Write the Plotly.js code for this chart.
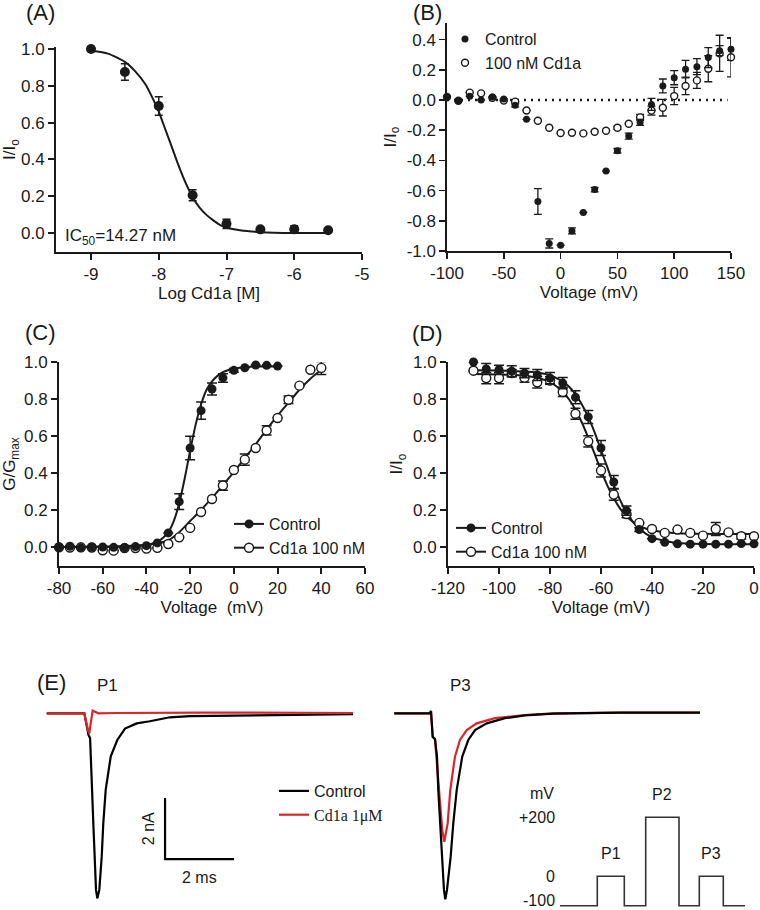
<!DOCTYPE html>
<html>
<head>
<meta charset="utf-8">
<script src="https://cdn.plot.ly/plotly-3.0.1.min.js"></script>
<style>html,body{margin:0;padding:0;background:#fff;}#chart{width:760px;height:910px;}</style>
</head>
<body>
<div id="chart"></div>
<script>
// ---------- Panel A: concentration-response ----------
const aLogConc = [-9, -8.5, -8, -7.5, -7, -6.5, -6, -5.5];
const aRatio   = [1.0, 0.875, 0.69, 0.205, 0.05, 0.02, 0.02, 0.015];
const aErr     = [0.0, 0.045, 0.05, 0.03, 0.025, 0.005, 0.02, 0.005];
const aFitX = [-9, -8.75, -8.5, -8.35, -8.2, -8.1, -8, -7.9, -7.8, -7.7, -7.6, -7.5, -7.4, -7.3, -7.2, -7.1, -7, -6.8, -6.5, -6, -5.5];
const aFitY = [0.99, 0.975, 0.93, 0.88, 0.81, 0.74, 0.66, 0.56, 0.46, 0.36, 0.27, 0.195, 0.14, 0.1, 0.07, 0.045, 0.03, 0.015, 0.005, 0.0, 0.0];
const aXTickVals = [-9, -8, -7, -6, -5];
const aXTickText = ['-9', '-8', '-7', '-6', '-5'];
const fracTickVals = [0, 0.2, 0.4, 0.6, 0.8, 1.0];
const fracTickText = ['0.0', '0.2', '0.4', '0.6', '0.8', '1.0'];

// ---------- Panel B: I-V ----------
const bVoltage = [-100, -90, -80, -70, -60, -50, -40, -30, -20, -10, 0, 10, 20, 30, 40, 50, 60, 70, 80, 90, 100, 110, 120, 130, 140, 150];
const bControl = [0.02, -0.005, 0.025, 0.0, 0.02, 0.007, -0.035, -0.128, -0.672, -0.95, -0.962, -0.867, -0.745, -0.593, -0.471, -0.336, -0.239, -0.148, -0.029, 0.093, 0.148, 0.204, 0.221, 0.281, 0.327, 0.336];
const bControlErr = [0, 0, 0, 0, 0, 0, 0.01, 0, 0.085, 0.03, 0, 0.02, 0, 0.015, 0, 0.015, 0.02, 0.02, 0.04, 0.046, 0.047, 0.058, 0.053, 0.066, 0.033, 0.073];
const bCd1a = [0.02, -0.005, 0.049, 0.044, 0.015, -0.004, -0.011, -0.069, -0.137, -0.184, -0.219, -0.217, -0.221, -0.21, -0.204, -0.184, -0.157, -0.115, -0.07, -0.051, 0.026, 0.093, 0.13, 0.207, 0.309, 0.283];
const bCd1aErr = [0, 0, 0, 0, 0, 0, 0, 0, 0, 0, 0, 0, 0, 0, 0, 0.01, 0, 0.02, 0.03, 0.055, 0.057, 0.058, 0.053, 0.086, 0.12, 0.13];
const bZeroLineX = [-100, 147];
const bZeroLineY = [0, 0];
const bXTickVals = [-100, -50, 0, 50, 100, 150];
const bXTickText = ['-100', '-50', '0', '50', '100', '150'];
const bYTickVals = [-1.0, -0.8, -0.6, -0.4, -0.2, 0.0, 0.2, 0.4];
const bYTickText = ['-1.0', '-0.8', '-0.6', '-0.4', '-0.2', '0.0', '0.2', '0.4'];

// ---------- Panel C: activation ----------
const cVoltage = [-80, -75, -70, -65, -60, -55, -50, -45, -40, -35, -30, -25, -20, -15, -10, -5, 0, 5, 10, 15, 20, 25, 30, 35, 40];
const cControl = [0.0, 0.004, -0.005, 0.0, 0.0, -0.002, -0.004, 0.002, 0.007, 0.022, 0.076, 0.245, 0.535, 0.737, 0.854, 0.914, 0.955, 0.969, 0.984, 0.982, 0.978];
const cControlErr = [0, 0, 0, 0, 0, 0, 0, 0, 0, 0, 0, 0.043, 0.063, 0.047, 0.032, 0.023, 0.01, 0, 0, 0, 0];
const cCd1a = [-0.002, -0.003, -0.002, -0.003, -0.018, -0.02, -0.006, -0.006, -0.009, -0.005, 0.016, 0.052, 0.103, 0.189, 0.259, 0.332, 0.416, 0.472, 0.535, 0.63, 0.697, 0.796, 0.872, 0.958, 0.968];
const cCd1aErr = [0, 0, 0, 0, 0, 0, 0, 0, 0, 0, 0, 0, 0, 0, 0, 0.025, 0, 0.03, 0, 0.025, 0, 0.02, 0, 0, 0.035];
const cFitCtrlX = [-80, -60, -50, -45, -40, -37.5, -35, -32.5, -30, -27.5, -25, -22.5, -20, -17.5, -15, -12.5, -10, -7.5, -5, -2.5, 0, 5, 10, 15, 20];
const cFitCtrlY = [0, 0, 0.002, 0.005, 0.01, 0.017, 0.028, 0.048, 0.08, 0.14, 0.235, 0.37, 0.52, 0.66, 0.77, 0.85, 0.895, 0.925, 0.945, 0.957, 0.965, 0.972, 0.975, 0.975, 0.975];
const cFitCdX = [-80, -60, -50, -40, -35, -30, -25, -20, -15, -10, -5, 0, 5, 10, 15, 20, 25, 30, 35, 40];
const cFitCdY = [0, 0.002, 0.005, 0.012, 0.02, 0.036, 0.08, 0.14, 0.2, 0.265, 0.335, 0.405, 0.48, 0.555, 0.635, 0.71, 0.78, 0.85, 0.91, 0.958];
const cXTickVals = [-80, -60, -40, -20, 0, 20, 40, 60];
const cXTickText = ['-80', '-60', '-40', '-20', '0', '20', '40', '60'];

// ---------- Panel D: inactivation ----------
const dVoltage = [-110, -105, -100, -95, -90, -85, -80, -75, -70, -65, -60, -55, -50, -45, -40, -35, -30, -25, -20, -15, -10, -5, 0];
const dControl = [1.0, 0.962, 0.958, 0.95, 0.94, 0.93, 0.913, 0.886, 0.809, 0.703, 0.535, 0.351, 0.196, 0.094, 0.045, 0.025, 0.017, 0.015, 0.015, 0.015, 0.015, 0.018, 0.017];
const dControlErr = [0, 0.03, 0.025, 0.03, 0.025, 0.03, 0.03, 0.03, 0.035, 0.035, 0.04, 0.035, 0.025, 0.01, 0, 0, 0, 0, 0, 0, 0, 0, 0];
const dCd1a = [0.953, 0.913, 0.913, 0.94, 0.915, 0.89, 0.9, 0.838, 0.72, 0.571, 0.413, 0.283, 0.178, 0.13, 0.097, 0.076, 0.094, 0.076, 0.061, 0.097, 0.079, 0.058, 0.058];
const dCd1aErr = [0, 0.03, 0.03, 0.02, 0.025, 0.03, 0.02, 0.025, 0.03, 0.03, 0.035, 0.03, 0.02, 0, 0, 0, 0, 0, 0, 0.035, 0, 0.015, 0];
const dFitX = [-110, -100, -95, -90, -85, -80, -77.5, -75, -72.5, -70, -67.5, -65, -62.5, -60, -57.5, -55, -52.5, -50, -47.5, -45, -42.5, -40, -35, -30, -20, -10, 0];
const dFitCtrlY = [0.955, 0.954, 0.952, 0.949, 0.943, 0.928, 0.913, 0.894, 0.866, 0.825, 0.77, 0.702, 0.62, 0.524, 0.43, 0.334, 0.253, 0.187, 0.135, 0.098, 0.072, 0.053, 0.032, 0.022, 0.016, 0.015, 0.015];
const dFitCdY = [0.935, 0.933, 0.931, 0.926, 0.915, 0.891, 0.869, 0.839, 0.797, 0.742, 0.673, 0.591, 0.503, 0.414, 0.332, 0.263, 0.207, 0.166, 0.136, 0.114, 0.1, 0.09, 0.079, 0.074, 0.071, 0.07, 0.07];
const dXTickVals = [-120, -100, -80, -60, -40, -20, 0];
const dXTickText = ['-120', '-100', '-80', '-60', '-40', '-20', '0'];

// ---------- Panel E: current traces (ms, nA) ----------
const eP1CtrlT = [0, 1.09, 1.15, 1.21, 1.258, 1.275, 1.351, 1.429, 1.467, 1.525, 1.594, 1.64, 1.71, 1.855, 2.046, 2.27, 2.61, 2.99, 3.28, 3.57, 4.15, 5.89, 7.34, 8.88];
const eP1CtrlI = [0, 0, -0.35, -0.71, -0.82, -1.42, -3.61, -5.79, -6.07, -5.79, -4.70, -3.61, -2.51, -1.42, -0.875, -0.5, -0.33, -0.26, -0.19, -0.13, -0.09, -0.06, -0.04, -0.03];
const eP1CdT = [0, 1.09, 1.206, 1.235, 1.275, 1.333, 1.4, 1.5, 2.0, 3.0, 4.5, 6.0, 7.5, 8.88];
const eP1CdI = [0, 0, -0.60, -0.66, -0.33, 0.085, 0.05, 0.0, 0.01, 0.02, 0.02, 0.02, 0.01, 0.01];
const eP3CtrlT = [0, 1.035, 1.064, 1.113, 1.18, 1.238, 1.275, 1.325, 1.374, 1.44, 1.478, 1.528, 1.634, 1.71, 1.81, 1.97, 2.145, 2.34, 2.68, 3.21, 3.79, 4.61, 6.54, 8.86];
const eP3CtrlI = [0, 0, 0.075, -0.77, -0.85, -1.42, -2.51, -3.61, -4.70, -5.79, -6.1, -5.79, -4.70, -3.61, -2.51, -1.42, -0.875, -0.55, -0.33, -0.16, -0.07, -0.01, 0.02, 0.02];
const eP3CdT = [0, 1.035, 1.064, 1.113, 1.18, 1.257, 1.333, 1.39, 1.45, 1.547, 1.623, 1.759, 1.904, 2.1, 2.39, 2.92, 3.79, 4.61, 6.54, 8.86];
const eP3CdI = [0, 0, 0.075, -0.77, -0.85, -1.97, -3.06, -3.83, -4.21, -3.61, -2.51, -1.42, -0.875, -0.55, -0.33, -0.16, -0.056, 0.0, 0.02, 0.02];
const scaleBarMs = 2;
const scaleBarNa = 2;
// voltage protocol (schematic time units, mV)
const protoT = [0, 3.73, 6.43, 8.57, 11.9, 13.93, 16.33, 18.5];
const protoV = [-100, 0, -100, 200, -100, 0, -100, -100];
const protoPulseNames = ['P1', 'P2', 'P3'];
const protoTickVals = [-100, 0, 200];
const protoTickText = ['-100', '0', '+200'];

// ---------- style ----------
const FONT = 'Liberation Sans, Arial, Helvetica, sans-serif';
const INK = '#1a1a1a';
const RED = '#d8262b';
const W = 760, H = 910;
const px = v => v / W;          // page x -> paper
const py = v => 1 - v / H;      // page y -> paper
const SCALEBAR_ORIGIN = {t: 3.43, i: -4.78};

function axis(extra) {
  return Object.assign({
    showgrid: false, zeroline: false, showline: true, linecolor: INK, linewidth: 2,
    ticks: 'outside', ticklen: 6, tickwidth: 2, tickcolor: INK,
    tickfont: {family: FONT, size: 17, color: INK}, fixedrange: true
  }, extra);
}
function ttl(text, standoff) { return {text: text, font: {family: FONT, size: 17, color: INK}, standoff: standoff}; }
function errs(arr, w, th) { return {type: 'data', array: arr, visible: true, color: INK, thickness: th || 1.5, width: w}; }
const openMarker = s => ({size: s, color: '#ffffff', line: {color: INK, width: 1.4}});
const filledMarker = s => ({size: s, color: INK, line: {color: INK, width: 0}});

const traces = [];
// A
traces.push({x: aFitX, y: aFitY, mode: 'lines', line: {color: INK, width: 2, shape: 'spline', smoothing: 0.6}, xaxis: 'x', yaxis: 'y', showlegend: false, hoverinfo: 'skip'});
traces.push({x: aLogConc, y: aRatio, mode: 'markers', marker: filledMarker(10), error_y: errs(aErr, 4), xaxis: 'x', yaxis: 'y', showlegend: false, cliponaxis: false});
// B
traces.push({x: bZeroLineX, y: bZeroLineY, mode: 'lines', line: {color: INK, width: 2.5, dash: '2px,5px'}, xaxis: 'x2', yaxis: 'y2', showlegend: false});
traces.push({x: bVoltage, y: bCd1a, name: '100 nM Cd1a', mode: 'markers', marker: openMarker(7), error_y: errs(bCd1aErr, 4, 1.3), xaxis: 'x2', yaxis: 'y2', legend: 'legend', legendrank: 2, cliponaxis: false});
traces.push({x: bVoltage, y: bControl, name: 'Control', mode: 'markers', marker: filledMarker(7), error_y: errs(bControlErr, 4, 1.3), xaxis: 'x2', yaxis: 'y2', legend: 'legend', legendrank: 1, cliponaxis: false});
// C
traces.push({x: cFitCtrlX, y: cFitCtrlY, mode: 'lines', line: {color: INK, width: 2, shape: 'spline', smoothing: 0.6}, xaxis: 'x3', yaxis: 'y3', showlegend: false});
traces.push({x: cFitCdX, y: cFitCdY, mode: 'lines', line: {color: INK, width: 2, shape: 'spline', smoothing: 0.6}, xaxis: 'x3', yaxis: 'y3', showlegend: false});
traces.push({x: cVoltage, y: cCd1a, mode: 'markers', marker: openMarker(9), error_y: errs(cCd1aErr, 5), xaxis: 'x3', yaxis: 'y3', showlegend: false, cliponaxis: false});
traces.push({x: cVoltage.slice(0, cControl.length), y: cControl, mode: 'markers', marker: filledMarker(9), error_y: errs(cControlErr, 5), xaxis: 'x3', yaxis: 'y3', showlegend: false, cliponaxis: false});
traces.push({x: [null], y: [null], name: 'Control', mode: 'lines+markers', marker: filledMarker(9), line: {color: INK, width: 2}, xaxis: 'x3', yaxis: 'y3', legend: 'legend2'});
traces.push({x: [null], y: [null], name: 'Cd1a 100 nM', mode: 'lines+markers', marker: openMarker(9), line: {color: INK, width: 2}, xaxis: 'x3', yaxis: 'y3', legend: 'legend2'});
// D
traces.push({x: dFitX, y: dFitCtrlY, mode: 'lines', line: {color: INK, width: 2, shape: 'spline', smoothing: 0.6}, xaxis: 'x4', yaxis: 'y4', showlegend: false});
traces.push({x: dFitX, y: dFitCdY, mode: 'lines', line: {color: INK, width: 2, shape: 'spline', smoothing: 0.6}, xaxis: 'x4', yaxis: 'y4', showlegend: false});
traces.push({x: dVoltage, y: dCd1a, mode: 'markers', marker: openMarker(9), error_y: errs(dCd1aErr, 5), xaxis: 'x4', yaxis: 'y4', showlegend: false, cliponaxis: false});
traces.push({x: dVoltage, y: dControl, mode: 'markers', marker: filledMarker(9), error_y: errs(dControlErr, 5), xaxis: 'x4', yaxis: 'y4', showlegend: false, cliponaxis: false});
traces.push({x: [null], y: [null], name: 'Control', mode: 'lines+markers', marker: filledMarker(9), line: {color: INK, width: 2}, xaxis: 'x4', yaxis: 'y4', legend: 'legend3'});
traces.push({x: [null], y: [null], name: 'Cd1a 100 nM', mode: 'lines+markers', marker: openMarker(9), line: {color: INK, width: 2}, xaxis: 'x4', yaxis: 'y4', legend: 'legend3'});
// E - P1
traces.push({x: eP1CtrlT, y: eP1CtrlI, name: 'Control', mode: 'lines', line: {color: '#000', width: 2.2}, xaxis: 'x5', yaxis: 'y5', legend: 'legend4', cliponaxis: false});
traces.push({x: eP1CdT, y: eP1CdI, name: '<span style="font-family:Liberation Serif, Times New Roman, serif">Cd1a 1μM</span>', mode: 'lines', line: {color: RED, width: 2.2}, xaxis: 'x5', yaxis: 'y5', legend: 'legend4', cliponaxis: false});
// scale bar
traces.push({x: [SCALEBAR_ORIGIN.t, SCALEBAR_ORIGIN.t, SCALEBAR_ORIGIN.t + scaleBarMs], y: [SCALEBAR_ORIGIN.i + scaleBarNa, SCALEBAR_ORIGIN.i, SCALEBAR_ORIGIN.i], mode: 'lines', line: {color: '#000', width: 2.2}, xaxis: 'x5', yaxis: 'y5', showlegend: false});
// E - P3
traces.push({x: eP3CdT, y: eP3CdI, mode: 'lines', line: {color: RED, width: 2.2}, xaxis: 'x6', yaxis: 'y6', showlegend: false, cliponaxis: false});
traces.push({x: eP3CtrlT, y: eP3CtrlI, mode: 'lines', line: {color: '#000', width: 2.2}, xaxis: 'x6', yaxis: 'y6', showlegend: false, cliponaxis: false});
// protocol
traces.push({x: protoT, y: protoV, mode: 'lines', line: {color: '#333', width: 1.6, shape: 'hv'}, xaxis: 'x7', yaxis: 'y7', showlegend: false});

const annFont = s => ({family: FONT, size: s, color: INK});

// pulse label positions from protocol
const protoAnn = [];
let k = 0;
for (let i = 0; i < protoV.length - 1; i++) {
  if (protoV[i] > protoV[0]) {
    protoAnn.push({x: (protoT[i] + protoT[i + 1]) / 2, y: protoV[i], xref: 'x7', yref: 'y7', text: protoPulseNames[k++], showarrow: false, yanchor: 'bottom', yshift: 12, font: annFont(16)});
  }
}
// protocol voltage level labels (lowest one kept inside the page)
const protoMin = Math.min.apply(null, protoTickVals);
protoTickVals.forEach((v, i) => {
  const lowest = v === protoMin;
  protoAnn.push({x: 0, xref: 'x7 domain', xanchor: 'right', xshift: -4,
    y: lowest ? 0 : v, yref: lowest ? 'paper' : 'y7', yanchor: lowest ? 'bottom' : 'middle',
    text: protoTickText[i], showarrow: false, borderpad: 0, font: annFont(16)});
});

const annotations = [
  {x: px(24), y: py(13), xref: 'paper', yref: 'paper', xanchor: 'left', yanchor: 'middle', text: '(A)', showarrow: false, font: annFont(22)},
  {x: px(411), y: py(13), xref: 'paper', yref: 'paper', xanchor: 'left', yanchor: 'middle', text: '(B)', showarrow: false, font: annFont(22)},
  {x: px(23), y: py(332), xref: 'paper', yref: 'paper', xanchor: 'left', yanchor: 'middle', text: '(C)', showarrow: false, font: annFont(22)},
  {x: px(410), y: py(333), xref: 'paper', yref: 'paper', xanchor: 'left', yanchor: 'middle', text: '(D)', showarrow: false, font: annFont(22)},
  {x: px(35), y: py(682), xref: 'paper', yref: 'paper', xanchor: 'left', yanchor: 'middle', text: '(E)', showarrow: false, font: annFont(22)},
  {x: px(107), y: py(685), xref: 'paper', yref: 'paper', xanchor: 'center', yanchor: 'middle', text: 'P1', showarrow: false, font: annFont(17)},
  {x: px(460), y: py(685), xref: 'paper', yref: 'paper', xanchor: 'center', yanchor: 'middle', text: 'P3', showarrow: false, font: annFont(17)},
  {x: 0.023, y: 0.073, xref: 'x domain', yref: 'y domain', xanchor: 'left', yanchor: 'middle', text: 'IC<sub>50</sub>=14.27 nM', showarrow: false, font: annFont(17)},
  {x: SCALEBAR_ORIGIN.t, y: SCALEBAR_ORIGIN.i + scaleBarNa / 2, xref: 'x5', yref: 'y5', xanchor: 'right', yanchor: 'middle', xshift: -6, text: scaleBarNa + ' nA', textangle: -90, showarrow: false, font: annFont(16)},
  {x: SCALEBAR_ORIGIN.t + scaleBarMs / 2, y: SCALEBAR_ORIGIN.i, xref: 'x5', yref: 'y5', xanchor: 'center', yanchor: 'top', yshift: -8, text: scaleBarMs + ' ms', showarrow: false, font: annFont(16)},
  {x: 0, y: py(793), xref: 'x7 domain', yref: 'paper', xanchor: 'right', yanchor: 'middle', xshift: -4, text: 'mV', showarrow: false, font: annFont(16)}
].concat(protoAnn);

const legBase = {bgcolor: 'rgba(0,0,0,0)', borderwidth: 0, font: {family: FONT, size: 16, color: INK}, itemwidth: 30, tracegroupgap: 0, xref: 'paper', yref: 'paper', xanchor: 'left', yanchor: 'top', traceorder: 'normal'};

const layout = {
  width: W, height: H, margin: {l: 0, r: 0, t: 0, b: 0},
  paper_bgcolor: '#ffffff', plot_bgcolor: 'rgba(0,0,0,0)',
  font: {family: FONT, size: 16, color: INK},
  hovermode: false,
  xaxis: axis({domain: [px(56), px(362)], range: [-9.517, -5], anchor: 'y', tickmode: 'array', tickvals: aXTickVals, ticktext: aXTickText, title: ttl('Log Cd1a [M]', 3)}),
  yaxis: axis({domain: [py(252), py(47)], range: [-0.103, 1.011], anchor: 'x', tickmode: 'array', tickvals: fracTickVals, ticktext: fracTickText, title: ttl('I/I<sub>o</sub>', 6)}),
  xaxis2: axis({domain: [px(447), px(731)], range: [-100, 150], anchor: 'y2', tickmode: 'array', tickvals: bXTickVals, ticktext: bXTickText, linewidth: 1.6, tickwidth: 1.6, title: ttl('Voltage (mV)', 2)}),
  yaxis2: axis({domain: [py(251), py(23)], range: [-1.0, 0.51], anchor: 'x2', tickmode: 'array', tickvals: bYTickVals, ticktext: bYTickText, linewidth: 1.6, tickwidth: 1.6, title: ttl('I/I<sub>o</sub>', 6)}),
  xaxis3: axis({domain: [px(59), px(365)], range: [-80, 60], anchor: 'y3', tickmode: 'array', tickvals: cXTickVals, ticktext: cXTickText, title: ttl('Voltage  (mV)', 3)}),
  yaxis3: axis({domain: [py(566), py(362)], range: [-0.103, 1.0], anchor: 'x3', tickmode: 'array', tickvals: fracTickVals, ticktext: fracTickText, title: ttl('G/G<sub>max</sub>', 6)}),
  xaxis4: axis({domain: [px(448), px(754)], range: [-120, 0], anchor: 'y4', tickmode: 'array', tickvals: dXTickVals, ticktext: dXTickText, title: ttl('Voltage (mV)', 3)}),
  yaxis4: axis({domain: [py(566), py(362)], range: [-0.103, 1.0], anchor: 'x4', tickmode: 'array', tickvals: fracTickVals, ticktext: fracTickText, title: ttl('I/I<sub>o</sub>', 6)}),
  xaxis5: {domain: [0, 0.5], range: [-1.354, 9.661], anchor: 'y5', visible: false, fixedrange: true},
  yaxis5: {domain: [0, py(660)], range: [-6.449, 1.748], anchor: 'x5', visible: false, fixedrange: true},
  xaxis6: {domain: [0.5, 1], range: [-0.414, 10.6], anchor: 'y6', visible: false, fixedrange: true},
  yaxis6: {domain: [0, py(660)], range: [-6.449, 1.748], anchor: 'x6', visible: false, fixedrange: true},
  xaxis7: {domain: [px(560), px(745)], range: [0, 18.5], anchor: 'y7', visible: false, fixedrange: true},
  yaxis7: {domain: [0, py(785)], range: [-114.6, 309.6], anchor: 'x7', visible: false, fixedrange: true},
  legend: Object.assign({}, legBase, {x: px(445), y: py(22)}),
  legend2: Object.assign({}, legBase, {x: px(229), y: py(507)}),
  legend3: Object.assign({}, legBase, {x: px(451), y: py(511)}),
  legend4: Object.assign({}, legBase, {x: px(274), y: py(774)}),
  annotations: annotations,
  showlegend: true
};

Plotly.newPlot('chart', traces, layout, {staticPlot: true, displayModeBar: false});
</script>
</body>
</html>
